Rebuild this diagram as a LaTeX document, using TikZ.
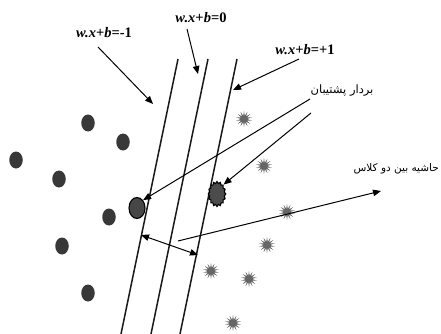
\documentclass[tikz,border=0pt]{standalone}
\usepackage{fontspec}
\setmainfont{Liberation Serif}
\newfontfamily\farsifont[Script=Arabic]{DejaVu Sans}
\TeXXeTstate=1
\usetikzlibrary{arrows.meta,shapes.geometric}
\begin{document}
\begin{tikzpicture}[x=1pt,y=-1pt,
  hyper/.style={line width=1.5pt,black!90},
  arr/.style={line width=1pt,-{Triangle[length=8pt,width=6.5pt]}},
  dbl/.style={line width=1pt,{Triangle[length=8pt,width=6.5pt]}-{Triangle[length=8pt,width=6.5pt]}},
  dot/.style={ellipse,fill=black!78,minimum width=13.5pt,minimum height=17pt,inner sep=0pt},
  svdot/.style={ellipse,fill=black!72,draw=black,line width=1.1pt,minimum width=16pt,minimum height=21pt,inner sep=0pt},
  spike/.style={star,star points=14,star point ratio=2.4,fill=black!60,minimum size=16pt,inner sep=0pt},
  svspike/.style={star,star points=16,star point ratio=1.18,fill=black!70,draw=black,line width=1.1pt,minimum size=25pt,inner sep=0pt,xscale=0.7},
  eqlabel/.style={font=\fontsize{14.5}{16}\selectfont\bfseries,inner sep=0pt},
  falabel/.style={font=\farsifont\fontsize{11.5}{13}\selectfont,inner sep=0pt}]
\useasboundingbox (0,0) rectangle (441,334);
\fill[white] (0,0) rectangle (441,334);

% hyperplanes
\coordinate (h1t) at (178,59); \coordinate (h1b) at (121,334);
\coordinate (h0t) at (208,59); \coordinate (h0b) at (151,334);
\coordinate (h2t) at (237,59); \coordinate (h2b) at (180,334);
\draw[hyper] (h1t) -- (h1b);
\draw[hyper] (h0t) -- (h0b);
\draw[hyper] (h2t) -- (h2b);

% class -1 points
\node[dot] (c1) at (88,123) {};
\node[dot] (c2) at (123,142) {};
\node[dot] (c3) at (16,160) {};
\node[dot] (c4) at (59,179) {};
\node[dot] (c5) at (109,217) {};
\node[dot] (c6) at (62,246) {};
\node[dot] (c7) at (88,293) {};
\node[svdot] (sv1) at (137,208) {};

% class +1 points
\node[spike] (s1) at (244,119) {};
\node[spike] (s2) at (264,166) {};
\node[spike] (s3) at (287,212) {};
\node[spike] (s4) at (267,245) {};
\node[spike] (s5) at (211,271) {};
\node[spike] (s6) at (249,279) {};
\node[spike] (s7) at (233,323) {};
\node[svspike] (sv2) at (217,194) {};

% labels
\node[eqlabel] (lm1) at (104,33) {\textit{w.x}+\textit{b}=-1};
\node[eqlabel] (l0) at (201,18) {\textit{w.x}+\textit{b}=0};
\node[eqlabel] (lp1) at (305,50) {\textit{w.x}+\textit{b}=+1};
\node[falabel] (lsv) at (342,91) {\beginR بردار پشتیبان\endR};
\node[falabel,font=\farsifont\fontsize{10.5}{12}\selectfont,anchor=east] (lmg) at (439,169) {\beginR حاشیه بین دو کلاس\endR};

% arrows from equation labels
\coordinate (a1s) at (98,47);  \coordinate (a1e) at (153,104);
\coordinate (a0s) at (187,29); \coordinate (a0e) at (198,74);
\coordinate (a2s) at (299,59); \coordinate (a2e) at (233,90);
\draw[arr] (a1s) -- (a1e);
\draw[arr] (a0s) -- (a0e);
\draw[arr] (a2s) -- (a2e);

% support vector arrows
\coordinate (sva) at (310,99); \coordinate (svb) at (311,113);
\draw[arr] (sva) -- (sv1.north east);
\draw[arr] (svb) -- (sv2.north east);

% margin
\coordinate (ml) at (141,235); \coordinate (mr) at (198,255);
\draw[dbl] (ml) -- (mr);
\coordinate (ms) at (178,241); \coordinate (me) at (381,191);
\draw[arr] (ms) -- (me);
\end{tikzpicture}
\end{document}
